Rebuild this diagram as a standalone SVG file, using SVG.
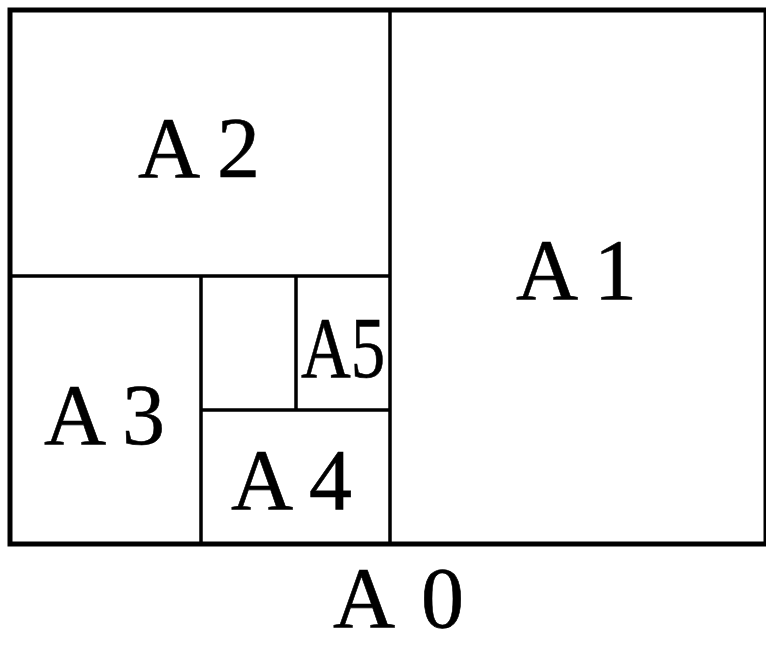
<svg xmlns="http://www.w3.org/2000/svg" width="766" height="646" viewBox="0 0 766 646">
<style>
.t{font-family:"Liberation Serif","Times New Roman","DejaVu Serif",serif;fill:#000;stroke:#000;stroke-width:0.6;font-size:86px}
.b{fill:none;stroke:#000;stroke-width:3.5}
</style>
<rect width="766" height="646" fill="#fff"/>
<g id="connectors">
<path class="b" d="M390 10V544M10 276H390M201 276V544M296 276V410M201 410H390"/>
<rect x="10" y="10" width="756" height="534" fill="none" stroke="#000" stroke-width="5"/>
</g>
<g id="A2"><text class="t" x="138" y="177" letter-spacing="17">A2</text></g>
<g id="A1"><text class="t" x="516" y="299" letter-spacing="16">A1</text></g>
<g id="A3"><text class="t" x="44" y="444" letter-spacing="16">A3</text></g>
<g id="A4"><text class="t" x="231" y="509" letter-spacing="16">A4</text></g>
<g id="A5"><text class="t" transform="translate(301 377) scale(0.8 1)" x="0" y="0" font-size="90">A5</text></g>
<g id="A0"><text class="t" x="333" y="627" font-size="84" letter-spacing="26">A0</text></g>
</svg>
